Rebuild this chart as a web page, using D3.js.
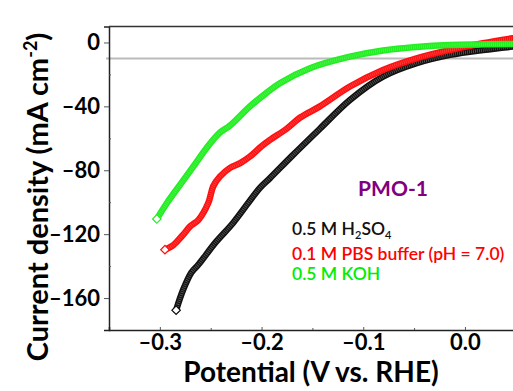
<!DOCTYPE html>
<html><head><meta charset="utf-8">
<script src="https://cdn.jsdelivr.net/npm/d3@7"></script>
<style>body{margin:0;background:#fff}svg{display:block}</style>
</head><body>
<script>
// Potential (V vs. RHE), current density (mA cm^-2)
const h2so4 = [[-0.284,-167.6],[-0.277,-154.7],[-0.269,-144],[-0.262,-139],[-0.245,-125],[-0.228,-113],[-0.2016,-91],[-0.1917,-84.9],[-0.170,-71],[-0.1426,-54],[-0.1131,-36],[-0.0806,-21.4],[-0.0475,-13],[-0.0147,-7.8],[0.0177,-4.7],[0.047,-2.6]];
const pbs = [[-0.295,-129.7],[-0.287,-127],[-0.278,-121],[-0.270,-115],[-0.262,-111],[-0.2524,-100.5],[-0.2475,-90],[-0.241,-84],[-0.231,-78.5],[-0.221,-75.5],[-0.2114,-71.4],[-0.200,-65],[-0.1917,-61],[-0.1753,-54],[-0.162,-47],[-0.1426,-40],[-0.1131,-27.6],[-0.0806,-17.2],[-0.0475,-9.9],[-0.0147,-4.7],[0.0177,-0.5],[0.047,2.6]];
const koh = [[-0.303,-110.5],[-0.293,-100.5],[-0.280,-89],[-0.267,-77.6],[-0.254,-66],[-0.242,-57],[-0.231,-52],[-0.2114,-40],[-0.196,-32],[-0.182,-25.5],[-0.1524,-16.1],[-0.1131,-8.9],[-0.0806,-5],[-0.0475,-2.8],[-0.0147,-1.6],[0.047,-1.0]];
const seriesNames = ["0.5 M H2SO4","0.1 M PBS buffer (pH = 7.0)","0.5 M KOH"];
const seriesColors = ["#111111","#ff1010","#22ee22"];
const xTicks = [-0.3,-0.2,-0.1,0.0];
const yTicks = [0,-40,-80,-120,-160];
const refLine = -10;

const W=513,H=391;
const svg=d3.select("body").append("svg").attr("width",W).attr("height",H);
const FONT="'Comic Sans MS','Lato','Open Sans',sans-serif";
const x=d3.scaleLinear().domain([-0.35,0.05]).range([109,515.8]);
const y=d3.scaleLinear().domain([-180,10]).range([330,26.5]);

svg.append("defs").append("clipPath").attr("id","c").append("rect")
 .attr("x",109).attr("y",26.5).attr("width",W-109).attr("height",330-26.5);

// reference line
svg.append("line").attr("x1",106).attr("x2",W).attr("y1",y(refLine)).attr("y2",y(refLine))
 .attr("stroke","#bbbbbb").attr("stroke-width",2);

// axes
const yAx=svg.append("g").attr("transform","translate(109,0)")
 .call(d3.axisLeft(y).tickValues(yTicks).tickSize(5).tickFormat(d=>d===0?"0":"\u2013"+Math.abs(d)));
yAx.select(".domain").attr("stroke","#222").attr("stroke-width",1.5);
yAx.selectAll("text").attr("font-family",FONT).attr("font-size",22).attr("font-weight","bold").attr("dx",-1).attr("fill","#000");
svg.append("g").attr("transform","translate(109,0)")
 .call(d3.axisRight(y).tickValues([-20,-60,-100,-140]).tickSize(2).tickFormat(""))
 .select(".domain").remove();

const xAx=svg.append("g").attr("transform","translate(0,330)")
 .call(d3.axisTop(x).tickValues(xTicks).tickSize(3).tickFormat(""));
xAx.select(".domain").attr("stroke","#222").attr("stroke-width",1.5);
const xLab=svg.append("g").attr("transform","translate(0,330)")
 .call(d3.axisBottom(x).tickValues(xTicks).tickSize(0).tickPadding(4).tickFormat(d=>d===0?"0.0":"\u2013"+Math.abs(d).toFixed(1)));
xLab.select(".domain").remove();
xLab.selectAll("text").attr("font-family",FONT).attr("font-size",22).attr("font-weight","bold").attr("fill","#000");
svg.append("g").attr("transform","translate(0,330)")
 .call(d3.axisTop(x).tickValues([-0.25,-0.15,-0.05]).tickSize(2).tickFormat(""))
 .select(".domain").remove();
svg.selectAll(".tick line").attr("stroke","#555");

// top border
svg.append("line").attr("x1",109).attr("x2",W).attr("y1",26.5).attr("y2",26.5).attr("stroke","#333").attr("stroke-width",1.5);

// curves
const line=d3.line().x(d=>x(d[0])).y(d=>y(d[1])).curve(d3.curveCatmullRom.alpha(0.5));
const g=svg.append("g").attr("clip-path","url(#c)");
[h2so4,pbs,koh].forEach((s,i)=>{
  g.append("path").attr("d",line(s)).attr("fill","none").attr("stroke",seriesColors[i]).attr("stroke-width",6.5).attr("stroke-linecap","round");
  g.append("path").attr("d",line(s)).attr("fill","none").attr("stroke","#fff").attr("stroke-opacity",i===0?0.3:0.22)
   .attr("stroke-width",3.5).attr("stroke-dasharray","0.8,1.2");
  const p=s[0];
  g.append("rect").attr("x",-3).attr("y",-3).attr("width",6).attr("height",6)
   .attr("transform",`translate(${x(p[0])},${y(p[1])}) rotate(45)`)
   .attr("fill","#fff").attr("stroke",seriesColors[i]).attr("stroke-width",1.2);
});

// y label
svg.append("text").attr("transform","translate(48,197) rotate(-90)").attr("text-anchor","middle")
 .attr("font-family",FONT).attr("font-size",29).attr("font-weight","bold")
 .html('Current density (mA cm<tspan dy="-11" font-size="18">-2</tspan><tspan dy="11">)</tspan>');
// x label
svg.append("text").attr("x",311).attr("y",382).attr("text-anchor","middle")
 .attr("font-family",FONT).attr("font-size",28).attr("font-weight","bold").text("Potential (V vs. RHE)");

// legend
svg.append("text").attr("x",393).attr("y",196).attr("text-anchor","middle").attr("fill","#800080")
 .attr("font-family",FONT).attr("font-size",21).attr("font-weight","bold").text("PMO-1");
const lg=svg.append("g").attr("font-family",FONT).attr("font-size",17.5).attr("font-weight",600);
const ys=[235,260,280];
lg.append("text").attr("x",292).attr("y",ys[0]).attr("fill",seriesColors[0])
 .html('0.5 M H<tspan dy="4" font-size="11">2</tspan><tspan dy="-4">SO</tspan><tspan dy="4" font-size="11">4</tspan>');
lg.append("text").attr("x",292).attr("y",ys[1]).attr("fill","#ff0000").text(seriesNames[1]);
lg.append("text").attr("x",292).attr("y",ys[2]).attr("fill","#00ee00").text(seriesNames[2]);
</script>
</body></html>
